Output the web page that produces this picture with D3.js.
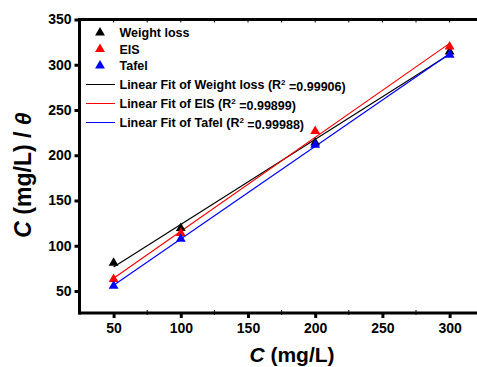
<!DOCTYPE html>
<html><head><meta charset="utf-8">
<script src="https://cdn.jsdelivr.net/npm/d3@7"></script>
<style>
body{margin:0;background:#fff;}
svg{display:block;font-family:"Liberation Sans",Arial,sans-serif;font-weight:bold;}
</style></head>
<body>
<svg id="c" width="477" height="367"></svg>
<script>
const concentrations = [50, 100, 200, 300];
const weightLoss = [81, 119.5, 214, 314.5];
const eis = [63, 114, 226.5, 320];
const tafel = [55.5, 107.5, 211.5, 311];
const xTicks = [50, 100, 150, 200, 250, 300];
const yTicks = [50, 100, 150, 200, 250, 300, 350];
const seriesNames = ["Weight loss", "EIS", "Tafel"];
const seriesColors = ["#000000", "#ff0000", "#0000ff"];
const r2Labels = ["0.99906", "0.99899", "0.99988"];

const svg = d3.select("#c");
const x = d3.scaleLinear().domain([25, 325]).range([80, 483.2]);
const y = d3.scaleLinear().domain([50, 350]).range([291, 19.5]);
const yBottom = y(25.7), yTop = y(350);

const g = svg.append("g");

// frame: top mirrored axis
g.append("line").attr("x1", 80).attr("x2", 480).attr("y1", yTop).attr("y2", yTop)
  .attr("stroke", "#000").attr("stroke-width", 3);
const topTicks = d3.range(50, 325, 25);
g.selectAll(".tt").data(topTicks).join("line")
  .attr("x1", d => x(d)).attr("x2", d => x(d)).attr("y1", yTop).attr("y2", yTop + 3)
  .attr("stroke", "#000").attr("stroke-width", 1);

// x axis
const xAxis = d3.axisBottom(x).tickValues(xTicks).tickSize(5).tickPadding(5).tickSizeOuter(0);
const xg = g.append("g").attr("transform", `translate(0,${yBottom})`).call(xAxis);
xg.select(".domain").attr("stroke-width", 3).attr("d", `M78.5,0H480`);
xg.selectAll(".tick line").attr("stroke-width", 3);
xg.selectAll(".tick text").attr("font-size", 14).attr("font-weight", "bold")
  .attr("font-family", "Liberation Sans, Arial, sans-serif").attr("fill", "#000");
g.selectAll(".xm").data(d3.range(75, 325, 50)).join("line")
  .attr("x1", d => x(d)).attr("x2", d => x(d)).attr("y1", yBottom - 3).attr("y2", yBottom + 2)
  .attr("stroke", "#000").attr("stroke-width", 1);

// y axis
const yAxis = d3.axisLeft(y).tickValues(yTicks).tickSize(5).tickPadding(3).tickSizeOuter(0);
const yg = g.append("g").attr("transform", "translate(79.5,0)").call(yAxis);
yg.select(".domain").attr("stroke-width", 3).attr("d", `M0,${yTop - 1.5}V${yBottom + 1.5}`);
yg.selectAll(".tick line").attr("stroke-width", 3);
yg.selectAll(".tick text").attr("font-size", 14).attr("font-weight", "bold")
  .attr("font-family", "Liberation Sans, Arial, sans-serif").attr("fill", "#000");

// data
const allSeries = [weightLoss, eis, tafel];
function fit(xs, ys) {
  const mx = d3.mean(xs), my = d3.mean(ys);
  let sxy = 0, sxx = 0;
  xs.forEach((v, i) => { sxy += (v - mx) * (ys[i] - my); sxx += (v - mx) * (v - mx); });
  const b = sxy / sxx;
  return { b, a: my - b * mx };
}
const line = d3.line().x(d => x(d[0])).y(d => y(d[1]));
allSeries.forEach((vals, si) => {
  const f = fit(concentrations, vals);
  const ends = d3.extent(concentrations);
  g.append("path").attr("d", line(ends.map(v => [v, f.a + f.b * v])))
    .attr("fill", "none").attr("stroke", seriesColors[si]).attr("stroke-width", 1.2);
});
const tri = d3.symbol().type(d3.symbolTriangle).size(42);
[0, 1, 2].forEach(si => {
  g.selectAll(".p" + si).data(concentrations).join("path")
    .attr("d", tri)
    .attr("transform", (d, i) => `translate(${x(d)},${y(allSeries[si][i])})`)
    .attr("fill", seriesColors[si]);
});

// legend
const leg = svg.append("g");
const rowsY = [32.7, 49.2, 65.7, 84.5, 103.5, 122.5];
seriesNames.forEach((n, i) => {
  leg.append("path").attr("d", tri).attr("transform", `translate(100,${rowsY[i]})`).attr("fill", seriesColors[i]);
  leg.append("text").attr("x", 119.5).attr("y", rowsY[i]).attr("dy", "0.36em")
    .attr("font-size", 12.5).text(n);
});
seriesNames.forEach((n, i) => {
  const yy = rowsY[i + 3];
  leg.append("line").attr("x1", 86).attr("x2", 115).attr("y1", yy).attr("y2", yy)
    .attr("stroke", seriesColors[i]).attr("stroke-width", 1);
  const t = leg.append("text").attr("x", 119.5).attr("y", yy).attr("dy", "0.36em").attr("font-size", 12.5);
  t.append("tspan").text(`Linear Fit of ${n} (R`);
  t.append("tspan").attr("font-size", 8).attr("dy", "-0.55em").text("2");
  t.append("tspan").attr("dy", "0.55em").text(` =${r2Labels[i]})`);
});

// axis titles
const xt = svg.append("text").attr("x", 292).attr("y", 362).attr("text-anchor", "middle").attr("font-size", 21);
xt.append("tspan").attr("font-style", "italic").text("C");
xt.append("tspan").text(" (mg/L)");

const yt = svg.append("text").attr("transform", "translate(31,175) rotate(-90)")
  .attr("text-anchor", "middle").attr("font-size", 23);
yt.append("tspan").attr("font-style", "italic").text("C");
yt.append("tspan").text(" (mg/L) / ");
yt.append("tspan").attr("font-style", "italic").text("θ");
</script>
</body></html>
